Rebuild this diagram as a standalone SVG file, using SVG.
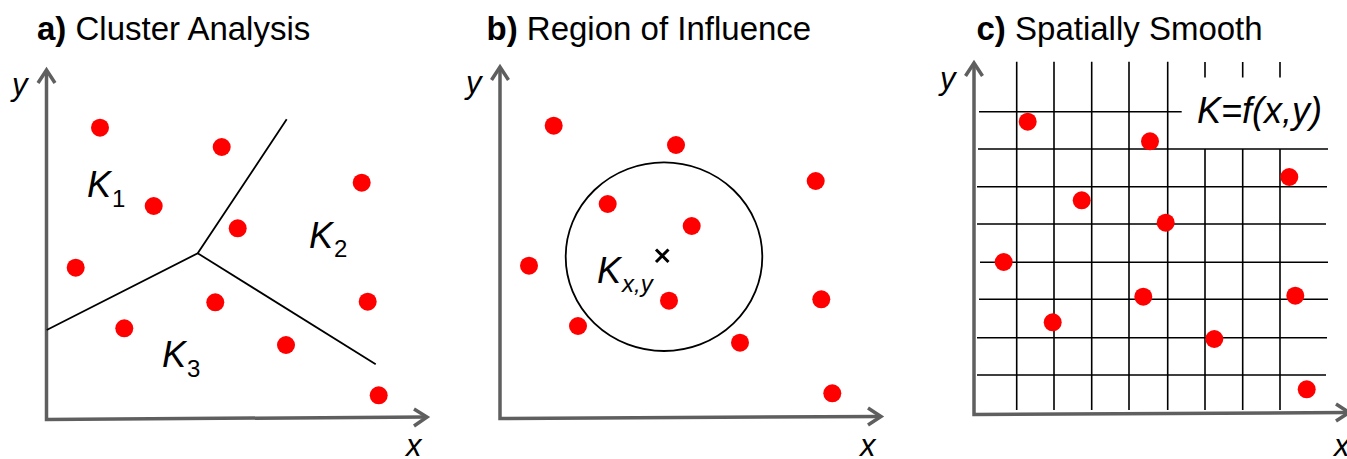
<svg xmlns="http://www.w3.org/2000/svg" width="1347" height="459" viewBox="0 0 1347 459">
<style>
text{font-family:"Liberation Sans",Arial,sans-serif;fill:#000}
.title{font-size:33px}
.b{font-weight:bold}
.ax{fill:none;stroke:#5f5f5f;stroke-width:3.5;stroke-linejoin:miter;stroke-linecap:butt}
.al{font-size:31px;font-style:italic}
.k{font-size:36px;font-style:italic}
.sub{font-size:24px}
.dot{fill:#ff0000}
.ln{fill:none;stroke:#000;stroke-width:1.8}
.mark{fill:none;stroke:#000;stroke-width:3}
.grid{fill:none;stroke:#000;stroke-width:1.6}
</style>
<rect width="1347" height="459" fill="#fff"/>

<g id="panel-a">
  <text class="title" x="37" y="40"><tspan class="b">a)</tspan> Cluster Analysis</text>
  <g id="axes-a">
    <polyline class="ax" points="46.5,71 46.5,419.5 426,417"/>
    <polyline class="ax" points="38,83 46.5,70 55,83"/>
    <polyline class="ax" points="414,409 427,417 414,426"/>
    <text class="al" x="12" y="95">y</text>
    <text class="al" x="406" y="456">x</text>
  </g>
  <g id="boundaries-a">
    <polyline class="ln" points="286.7,119.3 197.7,253.3 46.7,330"/>
    <line class="ln" x1="197.7" y1="253.3" x2="375.7" y2="364.3"/>
  </g>
  <g id="dots-a">
    <circle class="dot" cx="100" cy="127.7" r="9"/>
    <circle class="dot" cx="221.7" cy="147" r="9"/>
    <circle class="dot" cx="361.7" cy="182.7" r="9"/>
    <circle class="dot" cx="153.7" cy="206" r="9"/>
    <circle class="dot" cx="237.7" cy="228.3" r="9"/>
    <circle class="dot" cx="75.7" cy="267.7" r="9"/>
    <circle class="dot" cx="215.3" cy="302.3" r="9"/>
    <circle class="dot" cx="367.7" cy="301.7" r="9"/>
    <circle class="dot" cx="124.3" cy="328.3" r="9"/>
    <circle class="dot" cx="286" cy="345" r="9"/>
    <circle class="dot" cx="378.7" cy="395.3" r="9"/>
  </g>
  <g id="labels-a">
    <text class="k" x="87" y="197">K<tspan class="sub" font-style="normal" dx="1" dy="10">1</tspan></text>
    <text class="k" x="309" y="248">K<tspan class="sub" font-style="normal" dx="1" dy="9">2</tspan></text>
    <text class="k" x="162" y="367">K<tspan class="sub" font-style="normal" dx="1" dy="10">3</tspan></text>
  </g>
</g>

<g id="panel-b">
  <text class="title" x="486.5" y="40"><tspan class="b">b)</tspan> Region of Influence</text>
  <g id="axes-b">
    <polyline class="ax" points="500,68 500,418.5 880,416.5"/>
    <polyline class="ax" points="491.5,80 500,67 508.5,80"/>
    <polyline class="ax" points="868,408 881,416.5 868,425"/>
    <text class="al" x="466" y="93">y</text>
    <text class="al" x="860" y="456">x</text>
  </g>
  <ellipse id="region" class="ln" cx="664" cy="256.7" rx="98.3" ry="94.3"/>
  <g id="center-mark">
    <path class="mark" d="M656,249.5L668.5,262 M668.5,249.5L656,262"/>
  </g>
  <g id="dots-b">
    <circle class="dot" cx="553.7" cy="125.7" r="9"/>
    <circle class="dot" cx="676" cy="145" r="9"/>
    <circle class="dot" cx="815.7" cy="181" r="9"/>
    <circle class="dot" cx="607.7" cy="204" r="9"/>
    <circle class="dot" cx="691.7" cy="226" r="9"/>
    <circle class="dot" cx="529" cy="265.7" r="9"/>
    <circle class="dot" cx="669" cy="300.7" r="9"/>
    <circle class="dot" cx="821.3" cy="299.3" r="9"/>
    <circle class="dot" cx="578" cy="326" r="9"/>
    <circle class="dot" cx="740" cy="342.7" r="9"/>
    <circle class="dot" cx="832.3" cy="393.3" r="9"/>
  </g>
  <text class="k" x="597" y="282.7">K<tspan class="sub" dx="1" dy="9">x,y</tspan></text>
</g>

<g id="panel-c">
  <text class="title" x="976.5" y="40"><tspan class="b">c)</tspan> Spatially Smooth</text>
  <g id="grid-c">
    <path class="grid" d="M1016.7,61.7V410 M1054,61.7V410 M1091.7,61.7V410 M1129,61.7V410 M1167.7,61.7V410
      M1205,149V410 M1242.7,149V410 M1280,149V410
      M1205,62V77.5 M1242.7,62V77.5 M1280,62V77.5
      M979,111.7H1181.7
      M978,149H1328 M977,186.7H1327 M977,224H1326 M980,262.3H1328 M979,299.3H1328 M977,337.7H1327 M977,375H1326"/>
  </g>
  <g id="axes-c">
    <polyline class="ax" points="974,64 974,414.5 1352,412.5"/>
    <polyline class="ax" points="965.5,76 974,63 982.5,76"/>
    <polyline class="ax" points="1336,404 1349,412.5 1336,421"/>
    <text class="al" x="940" y="89">y</text>
    <text class="al" x="1334" y="456">x</text>
  </g>
  <g id="dots-c">
    <circle class="dot" cx="1027.7" cy="121.7" r="9"/>
    <circle class="dot" cx="1150" cy="141.3" r="9"/>
    <circle class="dot" cx="1289.3" cy="177" r="9"/>
    <circle class="dot" cx="1081.7" cy="200.3" r="9"/>
    <circle class="dot" cx="1165.7" cy="222.7" r="9"/>
    <circle class="dot" cx="1003.7" cy="262" r="9"/>
    <circle class="dot" cx="1143.3" cy="296.7" r="9"/>
    <circle class="dot" cx="1295.3" cy="295.7" r="9"/>
    <circle class="dot" cx="1052.7" cy="322.3" r="9"/>
    <circle class="dot" cx="1214.3" cy="339" r="9"/>
    <circle class="dot" cx="1306.7" cy="389.3" r="9"/>
  </g>
  <text class="k" x="1197" y="123.3" font-size="38">K=f(x,y)</text>
</g>
</svg>
